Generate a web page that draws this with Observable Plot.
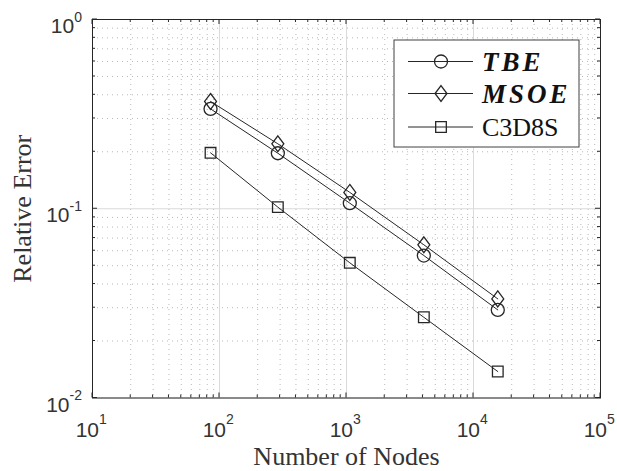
<!DOCTYPE html>
<html>
<head>
<meta charset="utf-8">
<script src="https://cdn.jsdelivr.net/npm/d3@7"></script>
<script src="https://cdn.jsdelivr.net/npm/@observablehq/plot@0.6"></script>
<style>
  html, body { margin: 0; padding: 0; background: #fff; }
  #chart svg { display: block; }
</style>
</head>
<body>
<div id="chart"></div>
<script>
// ---- data ----
const nodes = [85, 288, 1062, 4064, 15530];
const tbe   = [0.337, 0.1965, 0.107, 0.0566, 0.0292];
const msoe  = [0.369, 0.2204, 0.122, 0.0645, 0.0334];
const c3d8s = [0.1975, 0.102, 0.0518, 0.0267, 0.0138];

const seriesNames = ["TBE", "MSOE", "C3D8S"];
const seriesBold  = [true, true, false];

// ---- axis ticks ----
const xTicks = [10, 100, 1000, 10000, 100000];
const xExp   = ["1", "2", "3", "4", "5"];
const yTicks = [0.01, 0.1, 1];
const yExp   = ["-2", "-1", "0"];

const xMinor = xTicks.slice(0, -1).flatMap(d => [2,3,4,5,6,7,8,9].map(k => d * k));
const yMinor = yTicks.slice(0, -1).flatMap(d => [2,3,4,5,6,7,8,9].map(k => d * k));

const INK = "#262626";
const TXT = "#333333";
const SANS = "'Liberation Sans', Arial, sans-serif";
const SERIF = "'Liberation Serif', 'Times New Roman', serif";

// custom diamond (slightly taller than wide, like MATLAB's)
const diamond = {
  draw(context, size) {
    const r = Math.sqrt(size / Math.PI);
    const h = r * 1.22, w = r * 0.92;
    context.moveTo(0, -h);
    context.lineTo(w, 0);
    context.lineTo(0, h);
    context.lineTo(-w, 0);
    context.closePath();
  }
};
const symbols = ["circle", diamond, "square"];
const radii = [6.5, 6.5, 6.0];

function expWidth(s) {
  // approximate advance width at 14px Liberation Sans
  return [...s].reduce((a, c) => a + (c === "-" ? 4.7 : 7.8), 0);
}

// inward ticks on all four sides
function ticksMark(index, scales, values, dims) {
  const {width, height, marginTop: t, marginRight: r, marginBottom: b, marginLeft: l} = dims;
  const x0 = l, x1 = width - r, y0 = t, y1 = height - b;
  const g = d3.create("svg:g").attr("stroke", INK).attr("stroke-width", 1).attr("fill", "none");
  const addX = (arr, len) => arr.forEach(v => {
    const px = scales.x(v);
    g.append("line").attr("x1", px).attr("x2", px).attr("y1", y1).attr("y2", y1 - len);
    g.append("line").attr("x1", px).attr("x2", px).attr("y1", y0).attr("y2", y0 + len);
  });
  const addY = (arr, len) => arr.forEach(v => {
    const py = scales.y(v);
    g.append("line").attr("y1", py).attr("y2", py).attr("x1", x0).attr("x2", x0 + len);
    g.append("line").attr("y1", py).attr("y2", py).attr("x1", x1).attr("x2", x1 - len);
  });
  addX(xTicks, 5); addX(xMinor, 3);
  addY(yTicks, 5); addY(yMinor, 3);
  return g.node();
}

// legend box drawn in the top-right of the frame
function legendMark(index, scales, values, dims) {
  const {width, marginTop: t, marginRight: r} = dims;
  const right = width - r - 21, top = t + 21;
  const bw = 185, bh = 107;
  const left = right - bw;
  const g = d3.create("svg:g").attr("text-anchor", "start");
  g.append("rect").attr("x", left).attr("y", top).attr("width", bw).attr("height", bh)
    .attr("fill", "#fff").attr("stroke", "#404040").attr("stroke-width", 1);
  const rowY = [top + 21.5, top + 53.5, top + 87];
  seriesNames.forEach((name, i) => {
    const y = rowY[i];
    g.append("line").attr("x1", left + 14).attr("x2", left + 79).attr("y1", y).attr("y2", y)
      .attr("stroke", INK).attr("stroke-width", 1);
    const sym = typeof symbols[i] === "string"
      ? (symbols[i] === "circle" ? d3.symbolCircle : d3.symbolSquare) : symbols[i];
    const size = Math.PI * radii[i] * radii[i];
    g.append("path").attr("transform", `translate(${left + 47},${y})`)
      .attr("d", d3.symbol(sym, size)()).attr("fill", "none").attr("stroke", INK).attr("stroke-width", 1.3);
    const tx = g.append("text").attr("x", left + 88).attr("y", y).attr("dy", "0.35em")
      .attr("text-anchor", "start")
      .attr("fill", "#111").attr("font-family", SERIF).attr("font-size", 27).text(name);
    if (seriesBold[i]) tx.attr("font-weight", "bold").attr("font-style", "italic").attr("letter-spacing", "3px");
    else tx.attr("font-size", 26);
  });
  return g.node();
}

const seriesData = [tbe, msoe, c3d8s];

const chart = Plot.plot({
  width: 617,
  height: 471,
  marginLeft: 92,
  marginRight: 17,
  marginTop: 19,
  marginBottom: 73.5,
  x: {type: "log", domain: [10, 1e5], axis: null},
  y: {type: "log", domain: [0.01, 1], axis: null},
  style: {background: "#fff", overflow: "visible"},
  marks: [
    // minor grid (dotted)
    Plot.ruleX(xMinor, {x: d => d, stroke: "#9a9a9a", strokeWidth: 1, strokeDasharray: "1,4", strokeOpacity: 0.7}),
    Plot.ruleY(yMinor, {y: d => d, stroke: "#9a9a9a", strokeWidth: 1, strokeDasharray: "1,4", strokeOpacity: 0.7}),
    // major grid (solid light)
    Plot.ruleX(xTicks, {x: d => d, stroke: "#dadada", strokeWidth: 1}),
    Plot.ruleY(yTicks, {y: d => d, stroke: "#dadada", strokeWidth: 1}),
    // series
    ...seriesData.flatMap((vals, s) => [
      Plot.line(vals, {x: (d, i) => nodes[i], y: d => d, stroke: INK, strokeWidth: 1}),
      Plot.dot(vals, {x: (d, i) => nodes[i], y: d => d, symbol: () => symbols[s], r: radii[s],
        stroke: INK, strokeWidth: 1.3, fill: "none"})
    ]),
    // frame + ticks
    Plot.frame({stroke: INK, strokeWidth: 1}),
    ticksMark,
    // x tick labels
    Plot.text(xTicks, {x: d => d, text: () => "10", frameAnchor: "bottom", lineAnchor: "middle", dy: 32.5, dx: 6.5,
      textAnchor: "end", fontSize: 21, fontFamily: SANS, fill: TXT}),
    Plot.text(xTicks, {x: d => d, text: (d, i) => xExp[i], frameAnchor: "bottom", lineAnchor: "middle", dy: 22, dx: 6.5,
      textAnchor: "start", fontSize: 14, fontFamily: SANS, fill: TXT}),
    // y tick labels
    ...yTicks.flatMap((v, i) => [
      Plot.text([v], {y: d => d, text: () => "10", frameAnchor: "left", lineAnchor: "middle", dx: -10.5 - expWidth(yExp[i]), dy: 7,
        textAnchor: "end", fontSize: 21, fontFamily: SANS, fill: TXT}),
      Plot.text([v], {y: d => d, text: () => yExp[i], frameAnchor: "left", lineAnchor: "middle", dx: -10.5, dy: -2,
        textAnchor: "end", fontSize: 14, fontFamily: SANS, fill: TXT})
    ]),
    // axis titles
    Plot.text(["Number of Nodes"], {text: d => d, frameAnchor: "bottom", lineAnchor: "middle", textAnchor: "middle",
      dy: 59, fontSize: 26, fontFamily: SERIF, fill: TXT}),
    Plot.text(["Relative Error"], {text: d => d, frameAnchor: "left", lineAnchor: "middle", textAnchor: "middle",
      dx: -70, rotate: -90, fontSize: 26, fontFamily: SERIF, fill: TXT}),
    legendMark
  ]
});

document.getElementById("chart").appendChild(chart);
</script>
</body>
</html>
